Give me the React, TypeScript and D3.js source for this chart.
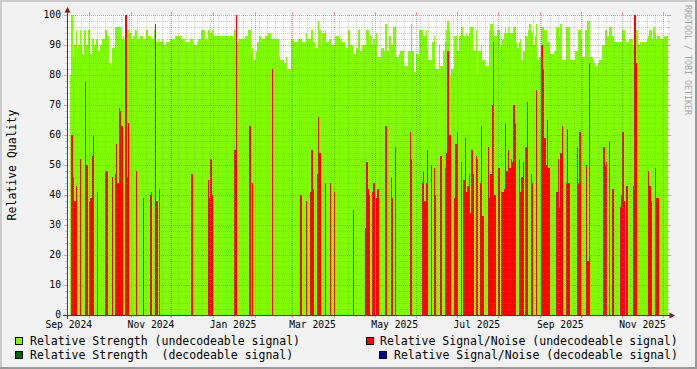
import React, { useEffect } from "react";
import * as d3 from "d3";

// ---------------- DATA ----------------
const startDate = "2024-09-17"; // first daily sample

// Relative Strength (undecodeable signal), one value per day
const strength: number[] = [
  80, 100, 86, 90, 95, 89, 90, 95, 90, 87,
  95, 95, 90, 95, 95, 87, 92, 92, 90, 92,
  92, 88, 90, 90, 92, 92, 95, 93, 93, 84,
  83, 89, 89, 96, 96, 96, 96, 96, 92, 93,
  92, 95, 95, 95, 94, 92, 92, 93, 95, 95,
  92, 92, 93, 93, 92, 92, 95, 95, 93, 93,
  92, 92, 95, 91, 91, 92, 91, 91, 92, 91,
  90, 91, 91, 91, 92, 92, 92, 92, 93, 93,
  93, 93, 92, 92, 92, 91, 91, 91, 91, 92,
  92, 91, 90, 90, 91, 92, 92, 95, 95, 95,
  92, 92, 95, 95, 94, 95, 93, 93, 93, 93,
  93, 93, 93, 93, 93, 93, 93, 93, 93, 93,
  93, 92, 95, 91, 91, 92, 92, 92, 92, 92,
  93, 93, 95, 95, 87, 89, 85, 85, 88, 91,
  93, 93, 92, 92, 92, 93, 93, 94, 94, 92,
  92, 92, 92, 92, 92, 86, 85, 85, 85, 84,
  86, 82, 82, 82, 92, 92, 91, 91, 91, 92,
  92, 92, 91, 91, 91, 94, 92, 92, 92, 95,
  91, 91, 89, 89, 98, 95, 90, 94, 94, 95,
  91, 91, 92, 92, 90, 90, 90, 93, 93, 93,
  92, 92, 91, 91, 89, 89, 95, 95, 90, 90,
  87, 87, 89, 89, 95, 88, 88, 90, 90, 90,
  95, 95, 90, 93, 90, 92, 90, 94, 86, 86,
  86, 89, 89, 88, 97, 88, 88, 93, 90, 90,
  96, 96, 86, 86, 87, 88, 88, 88, 83, 83,
  83, 88, 88, 97, 88, 81, 81, 87, 87, 95,
  95, 95, 93, 93, 95, 89, 85, 85, 85, 91,
  93, 82, 82, 82, 90, 83, 83, 88, 91, 95,
  98, 95, 80, 82, 82, 93, 93, 88, 88, 93,
  96, 96, 93, 93, 94, 93, 94, 96, 96, 88,
  88, 95, 80, 88, 88, 90, 85, 85, 83, 83,
  83, 95, 97, 97, 95, 93, 93, 95, 95, 90,
  90, 92, 94, 96, 94, 96, 94, 94, 94, 96,
  96, 91, 89, 91, 92, 85, 88, 88, 93, 93,
  95, 97, 94, 94, 90, 93, 97, 85, 86, 86,
  96, 96, 95, 95, 91, 91, 87, 87, 87, 88,
  88, 96, 96, 93, 97, 85, 85, 85, 96, 96,
  96, 85, 85, 85, 85, 88, 88, 95, 95, 92,
  86, 86, 95, 95, 98, 98, 86, 86, 85, 84,
  83, 83, 84, 85, 85, 90, 90, 95, 95, 93,
  96, 96, 93, 93, 91, 91, 91, 91, 91, 91,
  95, 95, 92, 91, 91, 92, 92, 92, 90, 90,
  95, 95, 90, 91, 90, 91, 91, 91, 92, 93,
  95, 95, 92, 96, 94, 92, 93, 93, 92, 92,
  92, 93, 93, 93,
];

// Relative Signal/Noise (undecodeable signal): day offset from startDate and value
const snrDays: number[] = [
  1, 2, 3, 4, 7, 11, 12, 14, 15, 16, 17, 20, 26, 27, 31, 33, 34, 35, 36, 37, 38, 41, 42, 43, 49, 54,
  59, 60, 63, 64, 66, 90, 102, 103, 104, 105, 122, 123, 133, 135, 150, 171, 175, 178, 179, 180, 183,
  184, 185, 189, 193, 196, 210, 219, 220, 221, 222, 224, 225, 227, 228, 234, 238, 239, 241, 252, 253,
  261, 262, 263, 264, 265, 268, 270, 271, 275, 278, 279, 280, 281, 282, 285, 286, 287, 290, 292, 293,
  294, 295, 296, 297, 298, 299, 301, 302, 304, 305, 306, 310, 311, 312, 313, 314, 315, 318, 320, 321,
  322, 323, 324, 325, 326, 327, 328, 329, 330, 333, 334, 335, 336, 338, 339, 342, 343, 346, 350, 351,
  352, 353, 354, 355, 361, 362, 363, 364, 365, 368, 369, 370, 376, 377, 378, 383, 384, 385, 396, 397,
  398, 400, 402, 403, 408, 409, 410, 411, 413, 418, 419, 420, 429, 430, 431, 434, 435, 436,
];
const snrValues: number[] = [
  60, 46, 38, 43, 52, 78, 50, 38, 39, 53, 60, 41, 48, 48, 46, 47, 57, 44, 69, 68, 63, 100, 46, 64, 48, 39,
  40, 41, 97, 38, 42, 47, 45, 39, 52, 40, 55, 100, 63, 44, 82, 40, 38, 41, 55, 42, 47,
  66, 54, 44, 44, 41, 35, 29, 51, 42, 40, 41, 44, 39, 42, 63, 46, 39, 56, 61, 52,
  44, 48, 38, 44, 55, 50, 49, 40, 53, 49, 54, 88, 60, 60, 39, 57, 61, 51, 45, 59,
  41, 43, 47, 34, 55, 47, 53, 52, 44, 63, 33, 56, 39, 47, 70, 91, 40, 49, 41, 41,
  42, 64, 48, 55, 49, 52, 51, 70, 64, 52, 41, 46, 51, 56, 71, 47, 44, 75, 90, 82,
  59, 50, 65, 49, 41, 52, 36, 54, 63, 44, 62, 44, 56, 44, 61, 50, 18, 84, 56, 50,
  51, 58, 42, 42, 36, 40, 61, 38, 43, 43, 100, 84, 48, 43, 38, 49, 39, 39,
];

// Decodeable series (none visible in this period)
const decStrengthDays: number[] = [];
const decStrengthValues: number[] = [];
const snrDecDays: number[] = [];
const snrDecValues: number[] = [];

const yTicks: number[] = [0, 10, 20, 30, 40, 50, 60, 70, 80, 90, 100];
const xLabelMonths: string[] = [
  "2024-09-01", "2024-11-01", "2025-01-01", "2025-03-01",
  "2025-05-01", "2025-07-01", "2025-09-01", "2025-11-01",
];
const xLabels: string[] = [
  "Sep 2024", "Nov 2024", "Jan 2025", "Mar 2025",
  "May 2025", "Jul 2025", "Sep 2025", "Nov 2025",
];

// ---------------- CHART ----------------
const W = 697;
const H = 369;
const X0 = 67;
const X1 = 667.5;
const YT = 15;
const YB = 315;
const mono = "'DejaVu Sans Mono', monospace";

const DAY = 86400000;
const utc = (s: string) => new Date(s + "T00:00:00Z");

export default function App() {
  useEffect(() => {
    document.body.style.margin = "0";
  }, []);

  const x = d3
    .scaleUtc()
    .domain([utc("2024-10-01"), utc("2025-12-01")])
    .range([89, 662.7]);
  const y = d3.scaleLinear().domain([0, 100]).range([YB, YT]);

  const start = utc(startDate).getTime();
  const dayT = (d: number) => new Date(start + d * DAY);

  const pts = strength.map((v, i) => ({ t: dayT(i), v }));
  pts.push({ t: dayT(strength.length), v: strength[strength.length - 1] });
  const area = d3
    .area<{ t: Date; v: number }>()
    .x((p) => x(p.t))
    .y0(y(0))
    .y1((p) => y(p.v))
    .curve(d3.curveStepAfter);

  const bars = (days: number[], vals: number[], color: string, key: string) =>
    days.map((d, i) => {
      const xa = x(dayT(d));
      const xb = x(dayT(d + 1));
      return (
        <rect
          key={key + i}
          x={xa}
          y={y(vals[i])}
          width={xb - xa}
          height={y(0) - y(vals[i])}
          fill={color}
        />
      );
    });

  // grid
  const majorV = d3.utcMonth.range(utc("2024-10-01"), utc("2025-12-02"));
  const majorSet = new Set(majorV.map((d) => d.getTime()));
  const minorV: Date[] = [];
  for (let k = -5; k < 200; k++) {
    const t = new Date(utc("2024-09-19").getTime() + k * 6 * DAY);
    const pxv = x(t);
    if (pxv < X0 + 1 || pxv > X1) continue;
    if (majorSet.has(t.getTime())) continue;
    minorV.push(t);
  }
  const minorH: number[] = [];
  for (let v = 2; v < 100; v += 2) if (v % 10 !== 0) minorH.push(v);

  const gridMinor = "rgba(143,143,143,0.45)";
  const gridMajor = "rgba(225,60,60,0.5)";
  const px = (v: number) => Math.round(v) + 0.5;

  return (
    <svg
      width={W}
      height={H}
      style={{ position: "absolute", left: 0, top: 0, display: "block" }}
      xmlns="http://www.w3.org/2000/svg"
    >
      {/* background + frame */}
      <rect x={0} y={0} width={W} height={H} fill="#f2f2f2" />
      <rect x={0} y={0} width={W} height={2} fill="#cbcbcb" />
      <rect x={0} y={0} width={2} height={H} fill="#cbcbcb" />
      <rect x={0} y={H - 2} width={W} height={2} fill="#999999" />
      <rect x={W - 2} y={0} width={2} height={H} fill="#999999" />

      {/* canvas */}
      <rect x={X0} y={YT} width={X1 - X0} height={YB - YT} fill="#ffffff" />

      {/* data */}
      <g shapeRendering="crispEdges">
        <path d={area(pts) || ""} fill="#7fff00" />
        {bars(decStrengthDays, decStrengthValues, "#006400", "dg")}
        {bars(snrDays, snrValues, "#ff0000", "r")}
        {bars(snrDecDays, snrDecValues, "#000099", "b")}
      </g>

      {/* grid */}
      <g shapeRendering="crispEdges" strokeWidth={1} fill="none">
        {minorH.map((v) => (
          <g key={"mh" + v}>
            <line x1={X0 - 2} x2={X0} y1={px(y(v))} y2={px(y(v))} stroke={gridMinor} />
            <line x1={X1} x2={X1 + 2} y1={px(y(v))} y2={px(y(v))} stroke={gridMinor} />
            <line x1={X0} x2={X1} y1={px(y(v))} y2={px(y(v))} stroke={gridMinor} strokeDasharray="1 1" />
          </g>
        ))}
        {minorV.map((t, i) => (
          <g key={"mv" + i}>
            <line x1={px(x(t))} x2={px(x(t))} y1={YT} y2={YB} stroke={gridMinor} strokeDasharray="1 1" />
            <line x1={px(x(t))} x2={px(x(t))} y1={YB} y2={YB + 2} stroke={gridMinor} />
          </g>
        ))}
        {yTicks.map((v) => (
          <g key={"Mh" + v}>
            <line x1={X0 - 3} x2={X0} y1={px(y(v))} y2={px(y(v))} stroke={gridMajor} />
            <line x1={X1} x2={X1 + 3} y1={px(y(v))} y2={px(y(v))} stroke={gridMajor} />
            <line x1={X0} x2={X1} y1={px(y(v))} y2={px(y(v))} stroke={gridMajor} strokeDasharray="1 1" />
          </g>
        ))}
        {majorV.map((t, i) => (
          <g key={"Mv" + i}>
            <line x1={px(x(t))} x2={px(x(t))} y1={YT - 3} y2={YT} stroke={gridMajor} />
            <line x1={px(x(t))} x2={px(x(t))} y1={YT} y2={YB} stroke={gridMajor} strokeDasharray="1 1" />
            <line x1={px(x(t))} x2={px(x(t))} y1={YB} y2={YB + 3} stroke={gridMajor} />
          </g>
        ))}
      </g>

      {/* axes */}
      <g shapeRendering="crispEdges">
        <line x1={X0 - 4} x2={X1 + 4} y1={YB + 0.5} y2={YB + 0.5} stroke="#404040" />
        <line x1={X0 + 0.5} x2={X0 + 0.5} y1={YB + 4} y2={YT - 4} stroke="#404040" />
      </g>
      <polygon
        points={`${X0 - 2.5},${YT - 2.5} ${X0 + 3.5},${YT - 2.5} ${X0 + 0.5},${YT - 8}`}
        fill="#7f1f1f"
      />
      <polygon
        points={`${X1 + 2},${YB - 2.5} ${X1 + 2},${YB + 3.5} ${X1 + 7.5},${YB + 0.5}`}
        fill="#7f1f1f"
      />

      {/* y tick labels */}
      {yTicks.map((v) => (
        <text
          key={"yl" + v}
          x={61}
          y={y(v) + 3.3}
          textAnchor="end"
          fontFamily={mono}
          fontSize={9.7}
          fill="#000"
        >
          {v}
        </text>
      ))}

      {/* x labels */}
      {xLabelMonths.map((m, i) => (
        <text
          key={"xl" + i}
          x={x(new Date(utc(m).getTime() + 15 * DAY))}
          y={328}
          textAnchor="middle"
          fontFamily={mono}
          fontSize={9.7}
          fill="#000"
        >
          {xLabels[i]}
        </text>
      ))}

      {/* y title */}
      <text
        transform={`translate(15.5,${(YT + YB) / 2}) rotate(-90)`}
        textAnchor="middle"
        fontFamily={mono}
        fontSize={11.5}
        fill="#000"
      >
        Relative Quality
      </text>

      {/* watermark */}
      <text
        transform="translate(685,5) rotate(90)"
        fontFamily={mono}
        fontSize={8.3}
        fill="#a8a8a8"
      >
        RRDTOOL / TOBI OETIKER
      </text>

      {/* legend */}
      <g fontFamily={mono} fontSize={11.5} fill="#000" style={{ whiteSpace: "pre" }}>
        <rect x={15.5} y={337.5} width={7} height={7} fill="#7fff00" stroke="#000" />
        <text x={30} y={345} xmlSpace="preserve">Relative Strength (undecodeable signal)</text>
        <rect x={366.5} y={337.5} width={7} height={7} fill="#ff0000" stroke="#000" />
        <text x={380} y={345} xmlSpace="preserve">Relative Signal/Noise (undecodeable signal)</text>
        <rect x={15.5} y={351.5} width={7} height={7} fill="#006400" stroke="#000" />
        <text x={30} y={359} xmlSpace="preserve">{"Relative Strength  (decodeable signal)"}</text>
        <rect x={379.5} y={351.5} width={7} height={7} fill="#000099" stroke="#000" />
        <text x={394} y={359} xmlSpace="preserve">Relative Signal/Noise (decodeable signal)</text>
      </g>
    </svg>
  );
}
